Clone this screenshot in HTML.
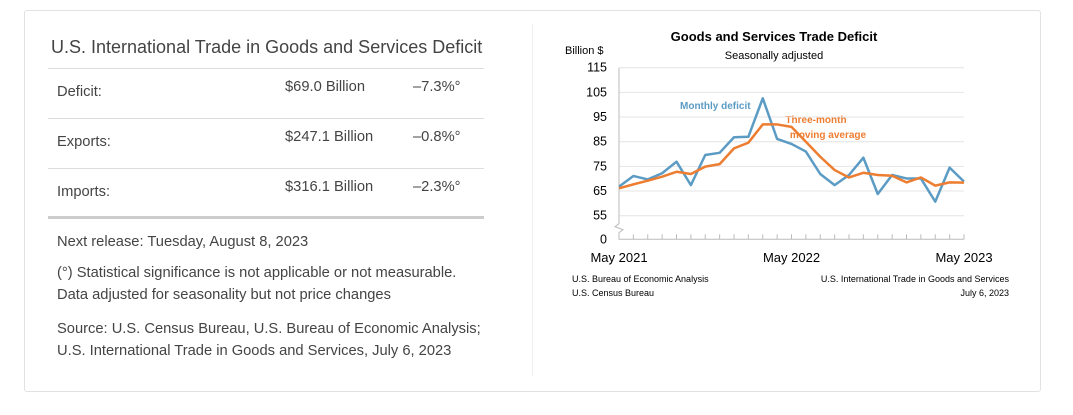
<!DOCTYPE html>
<html><head><meta charset="utf-8"><style>
body{margin:0;width:1073px;height:415px;background:#fff;font-family:"Liberation Sans",sans-serif;position:relative;overflow:hidden}
.a{position:absolute;white-space:nowrap}
.card{position:absolute;left:24px;top:10px;width:1017px;height:382px;border:1px solid #e2e2e2;border-radius:3px;box-sizing:border-box}
.rule{position:absolute;left:48px;width:436px;height:1px;background:#ddd}
.t{color:#444;font-size:14.7px}
</style></head><body>
<div class="card"></div>
<div class="a" style="left:532px;top:24px;width:1px;height:352px;background:#eee"></div>
<div class="a" style="left:51px;top:37px;font-size:18px;color:#444">U.S. International Trade in Goods and Services Deficit</div>
<div class="rule" style="top:68px"></div>
<div class="rule" style="top:118px"></div>
<div class="rule" style="top:168px"></div>
<div class="rule" style="top:216px;height:3px;background:#ccc"></div>
<div class="a t" style="left:57px;top:84px">Deficit:</div>
<div class="a t" style="left:285px;top:79px">$69.0 Billion</div>
<div class="a t" style="left:413px;top:79px">–7.3%°</div>
<div class="a t" style="left:57px;top:134px">Exports:</div>
<div class="a t" style="left:285px;top:129px">$247.1 Billion</div>
<div class="a t" style="left:413px;top:129px">–0.8%°</div>
<div class="a t" style="left:57px;top:184px">Imports:</div>
<div class="a t" style="left:285px;top:179px">$316.1 Billion</div>
<div class="a t" style="left:413px;top:179px">–2.3%°</div>
<div class="a t" style="left:57px;top:231px;line-height:22px">Next release: Tuesday, August 8, 2023</div>
<div class="a t" style="left:57px;top:262px;line-height:22px">(°) Statistical significance is not applicable or not measurable.<br>Data adjusted for seasonality but not price changes</div>
<div class="a t" style="left:57px;top:318px;line-height:22px">Source: U.S. Census Bureau, U.S. Bureau of Economic Analysis;<br>U.S. International Trade in Goods and Services, July 6, 2023</div>

<svg id="c" class="a" style="left:0;top:0" width="1073" height="415">
<text x="774" y="41" text-anchor="middle" font-size="13" font-weight="bold" fill="#000" font-family="Liberation Sans">Goods and Services Trade Deficit</text>
<text x="774" y="59" text-anchor="middle" font-size="11" fill="#000" font-family="Liberation Sans">Seasonally adjusted</text>
<text x="565" y="54" font-size="11" fill="#000" font-family="Liberation Sans">Billion $</text>
<text x="572" y="282" font-size="9" fill="#000" font-family="Liberation Sans">U.S. Bureau of Economic Analysis</text>
<text x="572" y="296" font-size="9" fill="#000" font-family="Liberation Sans">U.S. Census Bureau</text>
<text x="1009" y="282" text-anchor="end" font-size="9" fill="#000" font-family="Liberation Sans">U.S. International Trade in Goods and Services</text>
<text x="1009" y="296" text-anchor="end" font-size="9" fill="#000" font-family="Liberation Sans">July 6, 2023</text>
<text x="680" y="109" font-size="10" font-weight="bold" fill="#5b9bc4" font-family="Liberation Sans">Monthly deficit</text>
<text x="816" y="123" font-size="10" font-weight="bold" fill="#ed7d31" text-anchor="middle" font-family="Liberation Sans">Three-month</text>
<text x="828" y="138" font-size="10" font-weight="bold" fill="#ed7d31" text-anchor="middle" font-family="Liberation Sans">moving average</text>
</svg>
<script>
const yTicks=[0,55,65,75,85,95,105,115];
const xLabels=["May 2021","May 2022","May 2023"];
const xLabelIdx=[0,12,24];
const monthly=[66.8,71.1,69.7,72.2,76.9,67.4,79.6,80.5,86.8,87.0,102.6,86.1,84.1,81.0,71.9,67.4,71.5,78.5,63.8,71.5,70.1,70.1,60.7,74.5,68.8];
const avg3=[66.1,67.7,69.2,70.8,72.8,71.9,74.9,75.9,82.3,84.6,92.0,92.0,91.0,85.0,78.9,73.5,70.5,72.4,71.5,71.2,68.5,70.5,67.2,68.5,68.4];
const svg=document.getElementById('c');const NS='http://www.w3.org/2000/svg';
const x0=619,x1=964,n=monthly.length;
function X(i){return x0+i*(x1-x0)/(n-1);}
function Y(v){return v<55?239.3-(v/55)*(239.3-225):215.7-(v-55)*(215.7-67.7)/60;}
function mk(t,a){const e=document.createElementNS(NS,t);for(const k in a)e.setAttribute(k,a[k]);svg.appendChild(e);return e;}
yTicks.forEach(v=>{
 if(v>0){const g=mk('line',{x1:x0,x2:x1,y1:Y(v),y2:Y(v),stroke:'#e4e4e4'});
 
 }
 const t=mk('text',{x:607,y:Y(v)+4,'text-anchor':'end','font-size':12.5,'font-family':'Liberation Sans'});t.textContent=v;
 
 
});
const ax=mk('path',{d:`M${x0},${Y(115)}V${Y(55)+8}l-4,3l8,3l-4,3V${Y(0)}H${x1}`,fill:'none',stroke:'#bbb'});


for(let i=0;i<n;i++){const tk=mk('line',{x1:X(i),x2:X(i),y1:Y(0),y2:Y(0)-5,stroke:'#bbb'});
 
 }
xLabels.forEach((l,k)=>{const t=mk('text',{x:X(xLabelIdx[k]),y:262,'text-anchor':'middle','font-size':13,'font-family':'Liberation Sans'});t.textContent=l;
 
 });
function line(d,c,name){const p=mk('polyline',{points:d.map((v,i)=>X(i)+','+Y(v)).join(' '),fill:'none',stroke:c,'stroke-width':2.5,'stroke-linejoin':'round'});
 
 }
line(monthly,'#5b9bc4','monthly-deficit-line');
line(avg3,'#ed7d31','three-month-average-line');
</script>
</body></html>
